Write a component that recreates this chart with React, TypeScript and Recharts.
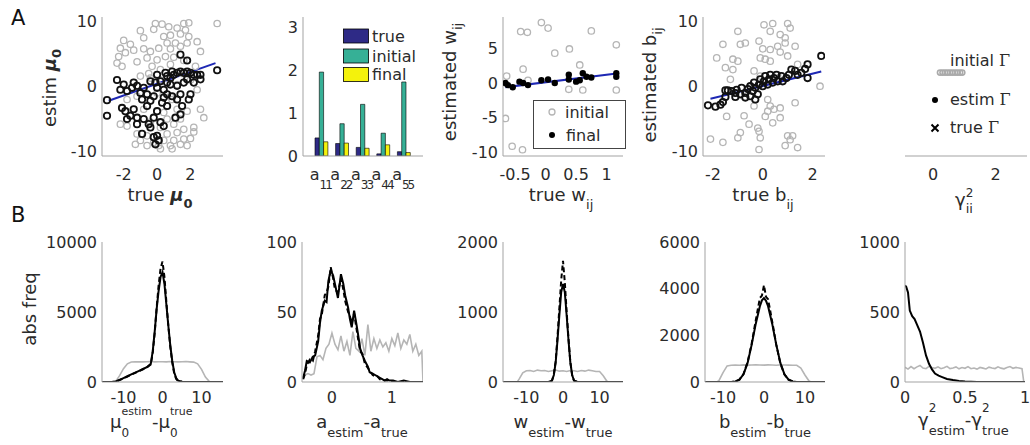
import React from 'react';
import {
  ScatterChart, Scatter, XAxis, YAxis, BarChart, Bar, LineChart, Line,
  ReferenceLine, Legend,
} from 'recharts';

type P = [number, number];

// ---------------- Row A data ----------------
const mu0Initial: P[] = [
  [-0.1, 9.7], [0.3, 9.6], [1.6, 9.7], [1.9, 9.8], [3.6, 9.7], [-1.0, 8.6], [-0.2, 8.8], [1.2, 9.0],
  [1.7, 8.7], [1.4, 8.1], [-2.0, 7.1], [-1.6, 6.5], [0.4, 7.7], [0.8, 7.9], [1.9, 7.7], [0.6, 6.7],
  [1.1, 6.7], [1.8, 6.7], [2.4, 6.9], [-2.2, 5.9], [-1.9, 5.2], [-2.3, 4.6], [-1.4, 5.6], [-0.8, 5.8],
  [-0.4, 5.4], [0.1, 5.9], [0.8, 5.8], [1.4, 6.2], [2.6, 5.4], [-0.6, 4.4], [0.0, 4.1], [0.5, 4.6],
  [-2.4, 3.6], [-2.1, 3.1], [-0.3, 3.1], [0.2, 2.6], [0.8, 3.4], [2.3, 3.1], [-1.0, 1.6], [-1.4, 0.6],
  [-0.4, 1.3], [1.2, 0.3], [0.0, -1.0], [-1.2, -1.5], [0.8, -1.5], [2.4, -0.5], [2.6, -3.5], [2.8, -4.8],
  [1.2, -3.5], [0.6, -3.0], [1.8, -3.8], [-2.2, -5.8], [-1.8, -6.1], [0.6, -5.0], [1.0, -5.8], [0.2, -6.3],
  [-1.2, -7.3], [-0.6, -7.6], [0.6, -7.3], [1.2, -7.1], [1.6, -6.6], [2.2, -6.3], [-1.0, -8.3], [-0.2, -8.6],
  [0.4, -8.3], [1.0, -8.3], [1.6, -8.1], [-1.3, -8.9], [-0.6, -9.1], [0.1, -9.1], [0.8, -9.1], [1.4, -8.9],
  [1.8, -9.1], [0.2, -9.6], [0.9, -9.6], [-0.2, -7.8], [-1.6, -4.5], [-0.8, -3.5], [-0.5, 2.0], [0.3, 1.0],
  [1.5, 2.0], [2.0, 1.0], [-1.8, -2.0], [0.9, -2.0], [1.4, -5.0], [-0.4, -5.5], [2.0, -8.0], [-0.8, 7.5],
  [0.7, 9.2], [1.0, 4.5], [1.6, 4.0], [-1.2, 3.8], [0.4, -4.0], [2.2, -7.0],
];
const mu0Final: P[] = [
  [-3.0, -4.5], [-3.0, -2.1], [-2.4, 1.0], [-2.2, -0.5], [-2.0, 0.3], [-1.8, -0.7], [-1.5, -0.2], [-1.4, 0.6],
  [-2.1, -3.3], [-1.9, -3.8], [-1.6, -4.5], [-1.4, -3.5], [-1.2, -4.8], [-1.8, -5.0], [-1.0, -1.0], [-0.8, -0.2],
  [-0.6, -1.2], [-0.9, -2.0], [-0.6, -3.0], [-0.4, -2.2], [-0.2, -1.5], [0.0, -0.2], [0.2, 0.8], [-0.1, 0.6],
  [0.4, -0.5], [0.6, 0.6], [0.8, 1.3], [1.0, 1.8], [1.2, 2.1], [1.4, 2.3], [1.6, 2.1], [1.8, 2.3],
  [2.0, 2.1], [2.2, 1.8], [2.4, 1.8], [2.6, 1.8], [3.6, 2.5], [1.4, 4.9], [1.8, 4.0], [0.6, 1.6],
  [0.8, 0.3], [0.4, -1.7], [0.6, -1.2], [0.3, -2.5], [0.6, -3.0], [0.9, -1.5], [1.2, -2.0], [1.4, -1.2],
  [1.5, -3.0], [2.0, -1.2], [1.9, -2.0], [1.1, -4.8], [1.4, -4.3], [0.0, -3.8], [-0.2, -4.8], [0.2, -5.5],
  [-0.8, -5.0], [-1.2, -5.8], [-0.4, -6.3], [0.4, -6.1], [-0.9, -7.3], [-0.2, -7.8], [0.0, -7.6], [0.1, -8.3],
  [-0.1, -8.9], [-0.5, -5.8], [1.2, 0.1], [1.6, 0.6], [2.2, 0.6], [2.6, 1.1], [1.8, 1.1], [0.0, 1.8],
  [-0.4, 0.8], [-1.2, 0.1], [0.5, 2.1], [0.9, 2.3],
];
const mu0Fit: P[] = [[-2.9, -2.2], [3.5, 3.6]];

const aCategories = ['11', '22', '33', '44', '55'];
const aTrue = [0.42, 0.29, 0.2, 0.05, 0.1];
const aInitial = [1.95, 0.75, 1.2, 0.53, 1.72];
const aFinal = [0.33, 0.3, 0.18, 0.26, 0.08];
const aSeriesNames = ['true', 'initial', 'final'];

const wInitial: P[] = [
  [-0.41, 7.4], [-0.3, 7.3], [-0.07, 8.7], [0.04, 7.9], [0.75, 7.5], [0.15, 4.3], [0.39, 4.9], [-0.37, 2.0],
  [-0.64, 1.0], [-0.29, 0.4], [0.56, 2.6], [0.38, -0.9], [0.61, -1.0], [-0.66, -5.1], [-0.55, -9.1], [-0.38, -9.6],
  [1.16, 5.5], [1.16, -1.0],
];
const wFinal: P[] = [
  [-0.66, 0.0], [-0.62, -0.3], [-0.54, -0.6], [-0.43, 0.2], [-0.37, 0.0], [-0.29, -0.3], [-0.07, 0.4], [0.04, 0.5],
  [0.15, 0.0], [0.38, 1.2], [0.38, 0.5], [0.5, 0.2], [0.56, 0.4], [0.61, 1.4], [0.67, 0.9], [0.75, 0.8],
  [1.16, 1.4], [1.16, 0.9],
];
const wFit: P[] = [[-0.66, -0.6], [1.2, 1.4]];
const wSeriesNames = ['initial', 'final'];

const bInitial: P[] = [
  [0.05, 9.5], [0.4, 9.7], [1.0, 9.7], [1.1, 9.0], [-1.0, 8.5], [0.3, 8.5], [0.7, 8.0], [0.9, 7.5],
  [0.9, 6.7], [0.6, 6.2], [-0.15, 7.0], [-1.6, 6.5], [-0.9, 6.5], [-0.7, 6.7], [0.0, 5.8], [0.3, 5.7],
  [0.7, 5.3], [1.3, 6.2], [-1.85, 4.4], [-1.2, 4.2], [-1.0, 3.9], [-0.1, 4.4], [0.1, 4.2], [0.3, 3.9],
  [1.0, 4.7], [-1.5, 2.9], [-1.2, 2.6], [1.4, 3.4], [-1.3, 1.1], [-0.35, 2.4], [-0.1, 1.6], [0.6, 1.8],
  [0.2, -2.0], [0.3, -3.0], [-0.35, -3.0], [0.7, -3.3], [1.3, -2.5], [2.3, 0.05], [-1.45, -4.6], [-0.75, -4.5],
  [0.1, -4.6], [0.7, -4.8], [-0.55, -5.8], [-0.2, -6.4], [0.4, -5.6], [-0.15, -6.9], [-0.9, -7.1], [-0.1, -7.9],
  [-1.0, -7.9], [1.0, -7.6], [1.2, -7.6], [1.1, -8.2], [0.9, -9.1], [1.4, -9.4], [-2.1, -8.1], [-1.6, -8.6],
  [-0.15, -9.7], [0.45, -3.5], [0.2, -3.8],
];
const bFinal: P[] = [
  [-2.2, -2.9], [-1.9, -3.1], [-1.7, -2.8], [-1.6, -2.4], [-1.5, -1.6], [-1.4, -0.6], [-1.5, -0.6], [-1.25, -0.7],
  [-1.1, -1.0], [-1.05, -0.5], [-0.9, -1.2], [-0.85, -0.2], [-0.7, -1.0], [-0.6, -0.4], [-0.5, 0.05], [-0.4, -0.7],
  [-0.35, 0.6], [-0.3, -0.2], [-0.15, 0.3], [-0.1, 1.1], [0.0, 0.05], [0.05, 0.8], [0.1, 1.6], [0.2, 0.3],
  [0.25, 1.1], [0.3, 1.8], [0.4, 0.6], [0.45, 1.3], [0.55, 1.8], [0.6, 0.8], [0.75, 1.6], [0.8, 0.8],
  [0.95, 1.3], [1.05, 1.8], [1.15, 2.6], [1.3, 2.4], [1.4, 1.8], [1.55, 2.1], [1.7, 2.7], [1.8, 3.4],
  [1.8, 1.3], [2.35, 4.7], [-0.3, -2.0], [-0.2, -1.2], [-0.5, -1.5], [-0.7, -1.7], [-1.1, -1.6],
];
const bFit: P[] = [[-2.1, -1.9], [2.35, 2.3]];

const gammaInitial: P[] = [
  [0.22, 0.6], [0.3, 0.6], [0.38, 0.6], [0.46, 0.6], [0.54, 0.6], [0.62, 0.6], [0.7, 0.6], [0.78, 0.6],
  [0.86, 0.6], [0.93, 0.6],
];
const gammaLegend = ['initial \u0393', 'estim \u0393', 'true \u0393'];

// tick labels
const mu0XTicks = [-2, 0, 2];
const mu0YTicks = [-10, 0, 10];
const aYTicks = [0, 1, 2, 3];
const wXTicks = [-0.5, 0, 0.5, 1];
const wYTicks = [-10, -5, 0, 5];
const bXTicks = [-2, 0, 2];
const bYTicks = [-10, 0, 10];
const gammaXTicks = [0, 2];

// ---------------- Row B data ----------------
const mu0DiffInitial: P[] = [
  [-15.5, 0], [-13, 0], [-12, 40], [-11, 450], [-10, 950], [-9, 1300], [-8, 1430], [-7, 1440], [-6, 1450],
  [-5, 1440], [-4, 1450], [-3, 1460], [-2, 1440], [-1, 1450], [0, 1450], [1, 1440], [2, 1460], [3, 1450],
  [4, 1440], [5, 1450], [6, 1460], [7, 1440], [8, 1420], [9, 1300], [10, 900], [11, 350], [12, 30],
  [13, 0], [15.5, 0],
];
const mu0DiffFinal: P[] = [
  [-15.5, 0], [-13, 0], [-12, 40], [-11, 150], [-10, 280], [-9, 410], [-8, 540], [-7, 670], [-6, 800],
  [-5, 930], [-4, 1060], [-3, 1300], [-2.5, 2200], [-2, 3600], [-1.5, 5200], [-1, 6500], [-0.5, 7500],
  [0, 7850], [0.5, 7000], [1, 5500], [1.5, 4000], [2, 2600], [2.5, 1500], [3, 700], [3.5, 280], [4, 100],
  [5, 20], [6, 0], [15.5, 0],
];
const mu0DiffTrue: P[] = [
  [-15.5, 0], [-13, 0], [-12, 30], [-11, 140], [-10, 260], [-9, 390], [-8, 520], [-7, 650], [-6, 780],
  [-5, 910], [-4, 1040], [-3, 1250], [-2.5, 2100], [-2, 3500], [-1.5, 5300], [-1, 6900], [-0.5, 8100],
  [0, 8600], [0.5, 7500], [1, 5700], [1.5, 4000], [2, 2500], [2.5, 1400], [3, 600], [3.5, 220], [4, 80],
  [5, 15], [6, 0], [15.5, 0],
];

const aDiffInitial: P[] = [
  [-0.5, 2], [-0.45, 5], [-0.4, 6], [-0.35, 5], [-0.3, 6], [-0.25, 18], [-0.2, 19], [-0.15, 16], [-0.1, 24],
  [-0.05, 27], [0, 35], [0.05, 27], [0.1, 23], [0.15, 33], [0.2, 22], [0.25, 29], [0.3, 19], [0.35, 36],
  [0.4, 24], [0.45, 22], [0.5, 31], [0.55, 19], [0.6, 41], [0.65, 22], [0.7, 31], [0.75, 24], [0.8, 30],
  [0.85, 25], [0.9, 28], [0.95, 22], [1.0, 31], [1.05, 26], [1.1, 35], [1.15, 24], [1.2, 30], [1.25, 27],
  [1.3, 34], [1.35, 22], [1.4, 27], [1.45, 19], [1.5, 22], [1.52, 0],
];
const aDiffFinal: P[] = [
  [-0.48, 3], [-0.45, 8], [-0.42, 15], [-0.37, 14], [-0.32, 18], [-0.28, 19], [-0.23, 29], [-0.2, 42],
  [-0.17, 51], [-0.12, 58], [-0.09, 57], [-0.06, 72], [-0.02, 80], [0.02, 76], [0.05, 70], [0.1, 60],
  [0.15, 77], [0.19, 70], [0.22, 62], [0.27, 53], [0.3, 45], [0.33, 39], [0.37, 51], [0.41, 41], [0.44, 33],
  [0.47, 24], [0.51, 19], [0.55, 15], [0.6, 11], [0.63, 7], [0.68, 6], [0.72, 5], [0.76, 4], [0.8, 3],
  [0.84, 2], [0.88, 1], [0.92, 2], [0.96, 1], [1.02, 1], [1.1, 0], [1.2, 1], [1.3, 0], [1.52, 0],
];
const aDiffTrue: P[] = [
  [-0.48, 2], [-0.45, 6], [-0.42, 12], [-0.37, 16], [-0.32, 15], [-0.28, 22], [-0.23, 33], [-0.2, 45],
  [-0.17, 48], [-0.12, 62], [-0.09, 64], [-0.06, 68], [-0.02, 82], [0.02, 74], [0.05, 66], [0.1, 64],
  [0.15, 74], [0.19, 66], [0.22, 58], [0.27, 50], [0.3, 47], [0.33, 42], [0.37, 49], [0.41, 38], [0.44, 30],
  [0.47, 22], [0.51, 20], [0.55, 13], [0.6, 10], [0.63, 8], [0.68, 5], [0.72, 4], [0.76, 4], [0.8, 2],
  [0.84, 2], [0.88, 1], [0.92, 1], [0.96, 1], [1.02, 0], [1.52, 0],
];

const wDiffInitial: P[] = [
  [-16.4, 0], [-12.5, 0], [-12, 40], [-11, 130], [-10, 160], [-9, 165], [-8, 150], [-7, 170], [-6, 160],
  [-5, 165], [-4, 150], [-3, 160], [-2, 170], [-1, 155], [0, 160], [1, 150], [2, 165], [3, 160], [4, 150],
  [5, 165], [6, 155], [7, 170], [8, 160], [9, 150], [10, 150], [11, 90], [12, 10], [12.5, 0], [16.4, 0],
];
const wDiffFinal: P[] = [
  [-16.4, 0], [-4, 0], [-3, 20], [-2.5, 100], [-2, 280], [-1.5, 600], [-1, 950], [-0.5, 1280], [0, 1400],
  [0.5, 1280], [1, 950], [1.5, 600], [2, 280], [2.5, 100], [3, 20], [4, 0], [16.4, 0],
];
const wDiffTrue: P[] = [
  [-16.4, 0], [-4, 0], [-3, 20], [-2.5, 110], [-2, 300], [-1.5, 650], [-1, 1050], [-0.5, 1450], [0, 1730],
  [0.5, 1420], [1, 1000], [1.5, 620], [2, 290], [2.5, 100], [3, 20], [4, 0], [16.4, 0],
];

const bDiffInitial: P[] = [
  [-14.4, 0], [-11.5, 0], [-11, 60], [-10, 400], [-9, 690], [-8, 720], [-7, 730], [-6, 720], [-5, 735],
  [-4, 725], [-3, 730], [-2, 740], [-1, 730], [0, 725], [1, 735], [2, 730], [3, 720], [4, 735], [5, 730],
  [6, 725], [7, 720], [8, 715], [9, 600], [10, 300], [11, 40], [11.5, 0], [14.9, 0],
];
const bDiffFinal: P[] = [
  [-14.4, 0], [-8, 0], [-7, 20], [-6, 100], [-5, 330], [-4, 820], [-3, 1600], [-2, 2500], [-1, 3250],
  [-0.5, 3500], [0, 3600], [0.5, 3480], [1, 3250], [2, 2500], [3, 1600], [4, 820], [5, 330], [6, 100],
  [7, 20], [8, 0], [14.9, 0],
];
const bDiffTrue: P[] = [
  [-14.4, 0], [-8, 0], [-7, 20], [-6, 100], [-5, 340], [-4, 850], [-3, 1650], [-2, 2650], [-1, 3600],
  [-0.5, 3700], [0, 4150], [0.5, 3650], [1, 3550], [2, 2600], [3, 1600], [4, 800], [5, 320], [6, 100],
  [7, 20], [8, 0], [14.9, 0],
];

const gammaDiffInitial: P[] = [
  [0, 105], [0.025, 92], [0.05, 110], [0.075, 95], [0.1, 108], [0.125, 118], [0.15, 100], [0.175, 95],
  [0.2, 112], [0.225, 104], [0.25, 98], [0.275, 108], [0.3, 95], [0.325, 102], [0.35, 112], [0.375, 96],
  [0.4, 100], [0.425, 108], [0.45, 94], [0.475, 103], [0.5, 98], [0.525, 110], [0.55, 95], [0.575, 100],
  [0.6, 92], [0.625, 104], [0.65, 99], [0.675, 93], [0.7, 106], [0.725, 100], [0.75, 96], [0.775, 108],
  [0.8, 99], [0.825, 94], [0.85, 103], [0.875, 110], [0.9, 98], [0.925, 104], [0.95, 100], [0.975, 95],
  [0.99, 0], [1, 0],
];
const gammaDiffFinal: P[] = [
  [0, 690], [0.01, 680], [0.025, 640], [0.04, 510], [0.06, 470], [0.08, 450], [0.1, 410], [0.125, 360],
  [0.15, 280], [0.175, 190], [0.2, 130], [0.225, 90], [0.25, 60], [0.28, 45], [0.31, 35], [0.35, 22],
  [0.4, 14], [0.45, 8], [0.5, 4], [0.55, 2], [0.6, 0], [1, 0],
];

const mu0DiffXTicks = [-10, 0, 10];
const mu0DiffYTicks = [0, 5000, 10000];
const aDiffXTicks = [0, 1];
const aDiffYTicks = [0, 50, 100];
const wDiffXTicks = [-10, 0, 10];
const wDiffYTicks = [0, 1000, 2000];
const bDiffXTicks = [-10, 0, 10];
const bDiffYTicks = [0, 2000, 4000, 6000];
const gammaDiffXTicks = [0, 0.5, 1];
const gammaDiffYTicks = [0, 500, 1000];

// ---------------- helpers ----------------
const toXY = (a: P[]) => a.map(([x, y]) => ({ x, y }));
const aRows = aCategories.map((name, i) => ({
  name, trueVal: aTrue[i], initialVal: aInitial[i], finalVal: aFinal[i],
}));

const FONT = '"DejaVu Sans", Verdana, sans-serif';
const SERIF = '"DejaVu Serif", "Liberation Serif", serif';
const AX = '#a3a3a3';
const TX = '#2b2b2b';
const GRAY = '#b5b5b5';
const BLUE = '#1e28b4';
const BAR_COLORS = ['#2e2a86', '#36b096', '#f4f20c'];
const tickStyle = { fill: TX, fontSize: 16, fontFamily: FONT };

interface Frame { left: number; top: number; width: number; height: number }
const frame = (x0: number, y0: number, x1: number, y1: number): Frame => ({
  left: x0 - 95, top: y0 - 12, width: x1 - x0 + 110, height: y1 - y0 + 72,
});
const MARGIN = { top: 12, right: 15, bottom: 0, left: 0 };
const F = {
  a1: frame(102, 17, 223, 156),
  a2: frame(303, 17, 423, 156),
  a3: frame(503, 17, 623, 156),
  a4: frame(703, 17, 825, 156),
  a5: frame(905, 17, 1027, 156),
  b1: frame(102, 242, 223, 382),
  b2: frame(302, 242, 423, 382),
  b3: frame(503, 242, 623, 382),
  b4: frame(705, 242, 825, 382),
  b5: frame(905, 242, 1025, 382),
};
const boxStyle = (f: Frame): React.CSSProperties => ({ position: 'absolute', left: f.left, top: f.top });

const ring = (color: string, r: number, sw: number) => (p: any) => (
  <circle cx={p.cx} cy={p.cy} r={r} fill="none" stroke={color} strokeWidth={sw} />
);
const dot = (color: string, r: number) => (p: any) => <circle cx={p.cx} cy={p.cy} r={r} fill={color} />;

const yTitle = (x: number, y: number, content: React.ReactNode) => () => (
  <text x={x} y={y} transform={`rotate(-90 ${x} ${y})`} textAnchor="middle" fontFamily={FONT} fontSize={18} fill={TX}>
    {content}
  </text>
);
const xTitle = (x: number, y: number, content: React.ReactNode, anchor: 'middle' | 'start' = 'middle') => () => (
  <text x={x} y={y} textAnchor={anchor} fontFamily={FONT} fontSize={18} fill={TX}>
    {content}
  </text>
);

const xAxisProps = {
  type: 'number' as const, dataKey: 'x', allowDataOverflow: true, height: 60, stroke: AX,
  tickLine: false, tick: tickStyle, interval: 0 as const,
};
const yAxisProps = {
  type: 'number' as const, dataKey: 'y', allowDataOverflow: true, width: 95, stroke: AX,
  tickLine: false, tick: tickStyle, tickSize: 5, tickMargin: 0, interval: 0 as const,
};

const ATick = (props: any) => (
  <text x={props.x - 1} y={props.y + 11.5} textAnchor="middle" fontFamily={FONT} fontSize={16} fill={TX}>
    <tspan>a</tspan>
    <tspan dy={9} fontSize={12} letterSpacing={-2}>{props.payload.value}</tspan>
  </text>
);

const barLegend = () => (
  <svg width={110} height={60} style={{ overflow: 'visible', display: 'block' }}>
    {aSeriesNames.map((n, i) => {
      const y = [0, 20, 38.5][i];
      return (
        <g key={n}>
          <rect x={0.5} y={y} width={25} height={14} fill={BAR_COLORS[i]} stroke="#000" strokeWidth={0.8} />
          <text x={29} y={y + 7} dominantBaseline="central" fontFamily={FONT} fontSize={16} fill={TX}>{n}</text>
        </g>
      );
    })}
  </svg>
);

const wLegend = () => (
  <svg width={93} height={49} style={{ overflow: 'visible', display: 'block' }}>
    <rect x={0.5} y={0.5} width={92} height={48} fill="#fff" stroke="#444" strokeWidth={1} />
    <circle cx={19} cy={12} r={3} fill="none" stroke={GRAY} strokeWidth={1.3} />
    <text x={32} y={12} dominantBaseline="central" fontFamily={FONT} fontSize={16} fill={TX}>{wSeriesNames[0]}</text>
    <circle cx={19} cy={35} r={3} fill="#000" />
    <text x={33} y={35} dominantBaseline="central" fontFamily={FONT} fontSize={16} fill={TX}>{wSeriesNames[1]}</text>
  </svg>
);

const gammaLegendContent = () => {
  const split = (s: string) => {
    const k = s.lastIndexOf(' ');
    return [s.slice(0, k + 1), s.slice(k + 1)];
  };
  const rows = gammaLegend.map(split);
  return (
    <svg width={110} height={100} style={{ overflow: 'visible', display: 'block' }}>
      <text x={20} y={21} fontFamily={FONT} fontSize={16} fill={TX}>
        {rows[0][0]}<tspan fontFamily={SERIF}>{rows[0][1]}</tspan>
      </text>
      <circle cx={5} cy={55} r={3} fill="#000" />
      <text x={20} y={60} fontFamily={FONT} fontSize={16} fill={TX}>
        {rows[1][0]}<tspan fontFamily={SERIF}>{rows[1][1]}</tspan>
      </text>
      <path d="M1.5 79.5 L8.5 86.5 M8.5 79.5 L1.5 86.5" stroke="#000" strokeWidth={2} />
      <text x={20} y={88} fontFamily={FONT} fontSize={16} fill={TX}>
        {rows[2][0]}<tspan fontFamily={SERIF}>{rows[2][1]}</tspan>
      </text>
    </svg>
  );
};

const legendPos = (left: number, top: number) => ({ left, top, width: 'auto', height: 'auto' });

function HistPanel(props: {
  f: Frame; xDomain: [number, number]; yDomain: [number, number]; xTicks: number[]; yTicks: number[];
  initial: P[]; final: P[]; ref?: P[]; xLabel: () => React.ReactElement; yLabel?: () => React.ReactElement;
}) {
  const { f } = props;
  return (
    <div style={boxStyle(f)}>
      <LineChart width={f.width} height={f.height} margin={MARGIN}>
        <XAxis {...xAxisProps} domain={props.xDomain} ticks={props.xTicks} tickMargin={4} label={props.xLabel} />
        <YAxis {...yAxisProps} domain={props.yDomain} ticks={props.yTicks} label={props.yLabel} />
        <Line data={toXY(props.initial)} dataKey="y" stroke={GRAY} strokeWidth={1.6} dot={false} isAnimationActive={false} />
        {props.ref && (
          <Line data={toXY(props.ref)} dataKey="y" stroke="#000" strokeWidth={2} strokeDasharray="5 3" dot={false} isAnimationActive={false} />
        )}
        <Line data={toXY(props.final)} dataKey="y" stroke="#000" strokeWidth={2} dot={false} isAnimationActive={false} />
      </LineChart>
    </div>
  );
}

export default function App() {
  return (
    <div style={{ position: 'absolute', left: 0, top: 0, width: 1030, height: 445, overflow: 'hidden', background: '#fff' }}>
      <svg style={{ position: 'absolute', left: 0, top: 0 }} width={40} height={230}>
        <text x={11} y={25} fontFamily={FONT} fontSize={21} fill="#111">A</text>
        <text x={11} y={222} fontFamily={FONT} fontSize={21} fill="#111">B</text>
      </svg>

      {/* A1 */}
      <div style={boxStyle(F.a1)}>
        <ScatterChart width={F.a1.width} height={F.a1.height} margin={MARGIN}>
          <XAxis {...xAxisProps} domain={[-3.3, 3.95]} ticks={mu0XTicks} tickMargin={6.5}
            label={xTitle(153, 196, <>true <tspan fontWeight="bold" fontStyle="italic">μ</tspan><tspan fontWeight="bold" dy={7} fontSize={13}>0</tspan></>)} />
          <YAxis {...yAxisProps} domain={[-10.7, 10.7]} ticks={mu0YTicks}
            label={yTitle(49, 83, <>estim <tspan fontWeight="bold" fontStyle="italic">μ</tspan><tspan fontWeight="bold" dy={5} fontSize={13}>0</tspan></>)} />
          <Scatter data={toXY(mu0Initial)} shape={ring(GRAY, 3.2, 1.3)} isAnimationActive={false} />
          <Scatter data={toXY(mu0Final)} shape={ring('#111', 3.2, 1.8)} isAnimationActive={false} />
          <ReferenceLine segment={toXY(mu0Fit)} stroke={BLUE} strokeWidth={2} />
        </ScatterChart>
      </div>

      {/* A2 */}
      <div style={boxStyle(F.a2)}>
        <BarChart width={F.a2.width} height={F.a2.height} margin={MARGIN} data={aRows} barSize={4.3} barGap={0}>
          <XAxis dataKey="name" height={60} stroke={AX} tickLine={false} tickMargin={6.5} interval={0}
            padding={{ left: 8, right: 9 }} tick={(p: any) => <ATick {...p} />} />
          <YAxis type="number" domain={[0, 3.23]} ticks={aYTicks} allowDataOverflow width={95} stroke={AX}
            tickLine={false} tick={tickStyle} tickSize={5} tickMargin={0} interval={0} />
          <Bar dataKey="trueVal" fill={BAR_COLORS[0]} stroke="#000" strokeWidth={0.6} isAnimationActive={false} />
          <Bar dataKey="initialVal" fill={BAR_COLORS[1]} stroke="#000" strokeWidth={0.6} isAnimationActive={false} />
          <Bar dataKey="finalVal" fill={BAR_COLORS[2]} stroke="#000" strokeWidth={0.6} isAnimationActive={false} />
          <Legend layout="vertical" align="center" verticalAlign="middle" wrapperStyle={legendPos(135, 24)} content={barLegend} />
        </BarChart>
      </div>

      {/* A3 */}
      <div style={boxStyle(F.a3)}>
        <ScatterChart width={F.a3.width} height={F.a3.height} margin={MARGIN}>
          <XAxis {...xAxisProps} domain={[-0.7, 1.27]} ticks={wXTicks} tickMargin={6.5}
            label={xTitle(153, 196, <>true w<tspan dy={8} fontSize={13}>ij</tspan></>)} />
          <YAxis {...yAxisProps} domain={[-10.5, 9.5]} ticks={wYTicks}
            label={yTitle(48, 77, <>estimated w<tspan dy={6} fontSize={13}>ij</tspan></>)} />
          <Scatter data={toXY(wInitial)} shape={ring(GRAY, 3.2, 1.3)} isAnimationActive={false} />
          <Scatter data={toXY(wFinal)} shape={dot('#000', 3.2)} isAnimationActive={false} />
          <ReferenceLine segment={toXY(wFit)} stroke={BLUE} strokeWidth={2} />
          <Legend layout="vertical" align="center" verticalAlign="middle" wrapperStyle={legendPos(125, 95)} content={wLegend} />
        </ScatterChart>
      </div>

      {/* A4 */}
      <div style={boxStyle(F.a4)}>
        <ScatterChart width={F.a4.width} height={F.a4.height} margin={MARGIN}>
          <XAxis {...xAxisProps} domain={[-2.4, 2.5]} ticks={bXTicks} tickMargin={6.5}
            label={xTitle(155, 196, <>true b<tspan dy={8} fontSize={13}>ij</tspan></>)} />
          <YAxis {...yAxisProps} domain={[-10.7, 10.7]} ticks={bYTicks}
            label={yTitle(48, 80, <>estimated b<tspan dy={6} fontSize={13}>ij</tspan></>)} />
          <Scatter data={toXY(bInitial)} shape={ring(GRAY, 3.2, 1.3)} isAnimationActive={false} />
          <Scatter data={toXY(bFinal)} shape={ring('#111', 3.2, 1.8)} isAnimationActive={false} />
          <ReferenceLine segment={toXY(bFit)} stroke={BLUE} strokeWidth={2} />
        </ScatterChart>
      </div>

      {/* A5 */}
      <div style={boxStyle(F.a5)}>
        <ScatterChart width={F.a5.width} height={F.a5.height} margin={{ ...MARGIN, left: 95 }}>
          <XAxis {...xAxisProps} domain={[-0.9, 3.0]} ticks={gammaXTicks} tickMargin={6.5}
            label={xTitle(145, 201, <>γ<tspan dy={-9} fontSize={12}>2</tspan><tspan dx={-7.6} dy={16} fontSize={13}>ii</tspan></>, 'start')} />
          <YAxis {...yAxisProps} hide domain={[0, 1]} />
          <Scatter data={toXY(gammaInitial)} shape={ring('#aaaaaa', 2.6, 1.6)} isAnimationActive={false} />
          <Legend layout="vertical" align="center" verticalAlign="middle" wrapperStyle={legendPos(120, 40)} content={gammaLegendContent} />
        </ScatterChart>
      </div>

      {/* B1 */}
      <HistPanel f={F.b1} xDomain={[-15.5, 15.5]} yDomain={[0, 10000]} xTicks={mu0DiffXTicks} yTicks={mu0DiffYTicks}
        initial={mu0DiffInitial} final={mu0DiffFinal} ref={mu0DiffTrue}
        xLabel={xTitle(103, 198, <>μ<tspan dy={-13} fontSize={11}>estim</tspan><tspan dx={-30.6} dy={22} fontSize={12}>0</tspan><tspan dx={23} dy={-9}>-μ</tspan><tspan dy={-13} fontSize={11}>true</tspan><tspan dx={-22.6} dy={22} fontSize={12}>0</tspan></>, 'start')}
        yLabel={yTitle(29, 79, 'abs freq')} />
      {/* B2 */}
      <HistPanel f={F.b2} xDomain={[-0.5, 1.52]} yDomain={[0, 100]} xTicks={aDiffXTicks} yTicks={aDiffYTicks}
        initial={aDiffInitial} final={aDiffFinal} ref={aDiffTrue}
        xLabel={xTitle(155, 198, <>a<tspan dy={9} fontSize={13}>estim</tspan><tspan dy={-9}>-a</tspan><tspan dy={9} fontSize={13}>true</tspan></>)} />
      {/* B3 */}
      <HistPanel f={F.b3} xDomain={[-16.4, 16.4]} yDomain={[0, 2000]} xTicks={wDiffXTicks} yTicks={wDiffYTicks}
        initial={wDiffInitial} final={wDiffFinal} ref={wDiffTrue}
        xLabel={xTitle(155, 198, <>w<tspan dy={9} fontSize={13}>estim</tspan><tspan dy={-9}>-w</tspan><tspan dy={9} fontSize={13}>true</tspan></>)} />
      {/* B4 */}
      <HistPanel f={F.b4} xDomain={[-14.4, 14.9]} yDomain={[0, 6000]} xTicks={bDiffXTicks} yTicks={bDiffYTicks}
        initial={bDiffInitial} final={bDiffFinal} ref={bDiffTrue}
        xLabel={xTitle(155, 198, <>b<tspan dy={9} fontSize={13}>estim</tspan><tspan dy={-9}>-b</tspan><tspan dy={9} fontSize={13}>true</tspan></>)} />
      {/* B5 */}
      <HistPanel f={F.b5} xDomain={[0, 1]} yDomain={[0, 1000]} xTicks={gammaDiffXTicks} yTicks={gammaDiffYTicks}
        initial={gammaDiffInitial} final={gammaDiffFinal}
        xLabel={xTitle(108, 196, <>γ<tspan dy={-14} fontSize={12}>2</tspan><tspan dx={-7.6} dy={23} fontSize={13}>estim</tspan><tspan dy={-9}>-γ</tspan><tspan dy={-14} fontSize={12}>2</tspan><tspan dx={-7.6} dy={23} fontSize={13}>true</tspan></>, 'start')} />
    </div>
  );
}
